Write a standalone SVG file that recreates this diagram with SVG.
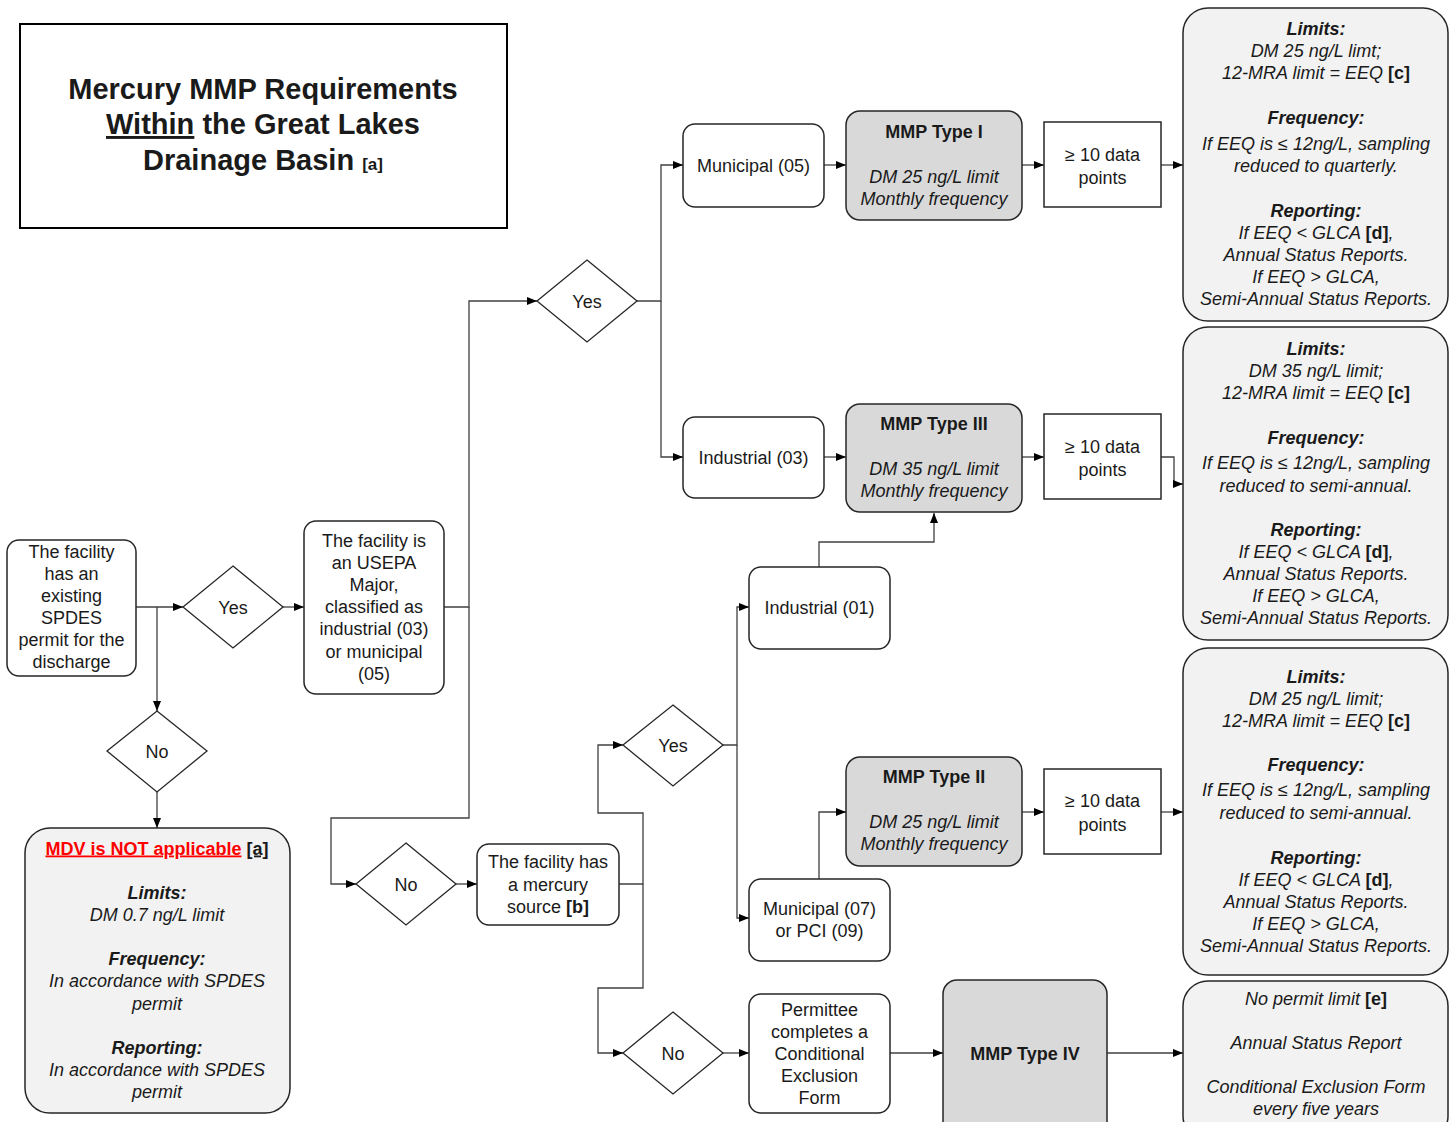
<svg xmlns="http://www.w3.org/2000/svg" width="1455" height="1122" viewBox="0 0 1455 1122">
<style>
text{font-family:"Liberation Sans",Arial,sans-serif;font-size:18px;fill:#1a1a1a;text-anchor:middle}
.box{fill:#fff;stroke:#262626;stroke-width:1.5}
.info{fill:#f2f2f2;stroke:#262626;stroke-width:1.5}
.mmp{fill:#d9d9d9;stroke:#262626;stroke-width:1.5}
.dia{fill:#fff;stroke:#262626;stroke-width:1.3}
.c{fill:none;stroke:#404040;stroke-width:1.3}
.b{font-weight:bold}
.i{font-style:italic}
.bi{font-weight:bold;font-style:italic}
.bn{font-weight:bold;font-style:normal}
</style>
<defs>
<marker id="ar" markerUnits="userSpaceOnUse" markerWidth="10" markerHeight="10" refX="10" refY="5" orient="auto">
<path d="M0,1 L10,5 L0,9 z" fill="#000"/>
</marker>
</defs>
<rect width="1455" height="1122" fill="#fff"/>

<g id="title">
<rect x="20" y="24" width="487" height="204" fill="#fff" stroke="#000" stroke-width="2"/>
<text x="263" y="99" class="b" style="font-size:29px">Mercury MMP Requirements</text>
<text x="263" y="134" class="b" style="font-size:29px"><tspan text-decoration="underline">Within</tspan> the Great Lakes</text>
<text x="263" y="170" class="b" style="font-size:29px">Drainage Basin <tspan style="font-size:17px">[a]</tspan></text>
</g>

<g id="connectors">
<path class="c" d="M136,607 H183" marker-end="url(#ar)"/>
<path class="c" d="M157,607 V711" marker-end="url(#ar)"/>
<path class="c" d="M157,792 V828" marker-end="url(#ar)"/>
<path class="c" d="M283,607 H304" marker-end="url(#ar)"/>
<path class="c" d="M444,607 H469 V301 H537" marker-end="url(#ar)"/>
<path class="c" d="M469,607 V818 H331 V884 H356" marker-end="url(#ar)"/>
<path class="c" d="M637,301 H661 V165 H683" marker-end="url(#ar)"/>
<path class="c" d="M661,301 V457 H683" marker-end="url(#ar)"/>
<path class="c" d="M824,165 H846" marker-end="url(#ar)"/>
<path class="c" d="M1022,165 H1044" marker-end="url(#ar)"/>
<path class="c" d="M1161,165 H1183" marker-end="url(#ar)"/>
<path class="c" d="M824,457 H846" marker-end="url(#ar)"/>
<path class="c" d="M1022,457 H1044" marker-end="url(#ar)"/>
<path class="c" d="M1161,457 H1174 V484 H1183" marker-end="url(#ar)"/>
<path class="c" d="M456,884 H477" marker-end="url(#ar)"/>
<path class="c" d="M619,884 H643 V813 H598 V745 H623" marker-end="url(#ar)"/>
<path class="c" d="M643,884 V988 H598 V1053 H623" marker-end="url(#ar)"/>
<path class="c" d="M723,745 H737 V607 H749" marker-end="url(#ar)"/>
<path class="c" d="M737,745 V918 H749" marker-end="url(#ar)"/>
<path class="c" d="M819,567 V542 H934 V513" marker-end="url(#ar)"/>
<path class="c" d="M819,879 V812 H846" marker-end="url(#ar)"/>
<path class="c" d="M1022,812 H1044" marker-end="url(#ar)"/>
<path class="c" d="M1161,812 H1183" marker-end="url(#ar)"/>
<path class="c" d="M723,1053 H749" marker-end="url(#ar)"/>
<path class="c" d="M890,1053 H943" marker-end="url(#ar)"/>
<path class="c" d="M1107,1053 H1183" marker-end="url(#ar)"/>
</g>

<g id="n-spdes">
<rect class="box" x="7" y="540" width="129" height="136" rx="12"/>
<text x="71.5" y="557.5">The facility</text>
<text x="71.5" y="579.5">has an</text>
<text x="71.5" y="601.5">existing</text>
<text x="71.5" y="623.5">SPDES</text>
<text x="71.5" y="645.5">permit for the</text>
<text x="71.5" y="667.5">discharge</text>
</g>

<g id="d-yes1">
<polygon class="dia" points="233,566 283,607 233,648 183,607"/>
<text x="233" y="613.5">Yes</text>
</g>

<g id="d-no1">
<polygon class="dia" points="157,711 207,751 157,792 107,751"/>
<text x="157" y="757.5">No</text>
</g>

<g id="n-mdv">
<rect class="info" x="25" y="828" width="265" height="285" rx="25"/>
<text x="157" y="854.5"><tspan class="b" style="fill:#ff0000" text-decoration="underline">MDV is NOT applicable</tspan> <tspan class="b" text-decoration="underline">[a]</tspan></text>
<text x="157" y="898.5" class="bi">Limits:</text>
<text x="157" y="920.5" class="i">DM 0.7 ng/L limit</text>
<text x="157" y="964.5" class="bi">Frequency:</text>
<text x="157" y="986.5" class="i">In accordance with SPDES</text>
<text x="157" y="1009.5" class="i">permit</text>
<text x="157" y="1053.5" class="bi">Reporting:</text>
<text x="157" y="1075.5" class="i">In accordance with SPDES</text>
<text x="157" y="1097.5" class="i">permit</text>
</g>

<g id="n-usepa">
<rect class="box" x="304" y="521" width="140" height="173" rx="12"/>
<text x="374" y="546.5">The facility is</text>
<text x="374" y="568.5">an USEPA</text>
<text x="374" y="590.5">Major,</text>
<text x="374" y="612.5">classified as</text>
<text x="374" y="634.5">industrial (03)</text>
<text x="374" y="657.5">or municipal</text>
<text x="374" y="679.5">(05)</text>
</g>

<g id="d-yes2">
<polygon class="dia" points="587,260 637,301 587,342 537,301"/>
<text x="587" y="307.5">Yes</text>
</g>

<g id="d-no2">
<polygon class="dia" points="406,843 456,884 406,925 356,884"/>
<text x="406" y="890.5">No</text>
</g>

<g id="n-source">
<rect class="box" x="477" y="844" width="142" height="81" rx="12"/>
<text x="548" y="867.5">The facility has</text>
<text x="548" y="890.5">a mercury</text>
<text x="548" y="912.5">source <tspan class="b">[b]</tspan></text>
</g>

<g id="n-mun05">
<rect class="box" x="683" y="124" width="141" height="83" rx="12"/>
<text x="753.5" y="171.5">Municipal (05)</text>
</g>

<g id="n-mmp1">
<rect class="mmp" x="846" y="111" width="176" height="109" rx="14"/>
<text x="934" y="138" class="b">MMP Type I</text>
<text x="934" y="182.5" class="i">DM 25 ng/L limit</text>
<text x="934" y="204.5" class="i">Monthly frequency</text>
</g>

<g id="n-data1">
<rect class="box" x="1044" y="122" width="117" height="85"/>
<text x="1102.5" y="160.5">≥ 10 data</text>
<text x="1102.5" y="183.5">points</text>
</g>

<g id="n-info1">
<rect class="info" x="1183" y="8" width="265" height="313" rx="25"/>
<text x="1316" y="34.5" class="bi">Limits:</text>
<text x="1316" y="56.5" class="i">DM 25 ng/L limt;</text>
<text x="1316" y="78.5" class="i">12-MRA limit = EEQ <tspan class="bn">[c]</tspan></text>
<text x="1316" y="123.5" class="bi">Frequency:</text>
<text x="1316" y="149.5" class="i">If EEQ is ≤ 12ng/L, sampling</text>
<text x="1316" y="171.5" class="i">reduced to quarterly.</text>
<text x="1316" y="216.5" class="bi">Reporting:</text>
<text x="1316" y="238.5" class="i">If EEQ &lt; GLCA <tspan class="bn">[d]</tspan>,</text>
<text x="1316" y="260.5" class="i">Annual Status Reports.</text>
<text x="1316" y="282.5" class="i">If EEQ &gt; GLCA,</text>
<text x="1316" y="304.5" class="i">Semi-Annual Status Reports.</text>
</g>

<g id="n-ind03">
<rect class="box" x="683" y="417" width="141" height="81" rx="12"/>
<text x="753.5" y="463.5">Industrial (03)</text>
</g>

<g id="n-mmp3">
<rect class="mmp" x="846" y="404" width="176" height="108" rx="14"/>
<text x="934" y="430" class="b">MMP Type III</text>
<text x="934" y="474.5" class="i">DM 35 ng/L limit</text>
<text x="934" y="496.5" class="i">Monthly frequency</text>
</g>

<g id="n-data2">
<rect class="box" x="1044" y="414" width="117" height="85"/>
<text x="1102.5" y="452.5">≥ 10 data</text>
<text x="1102.5" y="475.5">points</text>
</g>

<g id="n-info2">
<rect class="info" x="1183" y="327" width="265" height="313" rx="25"/>
<text x="1316" y="354.5" class="bi">Limits:</text>
<text x="1316" y="376.5" class="i">DM 35 ng/L limit;</text>
<text x="1316" y="398.5" class="i">12-MRA limit = EEQ <tspan class="bn">[c]</tspan></text>
<text x="1316" y="443.5" class="bi">Frequency:</text>
<text x="1316" y="468.5" class="i">If EEQ is ≤ 12ng/L, sampling</text>
<text x="1316" y="491.5" class="i">reduced to semi-annual.</text>
<text x="1316" y="535.5" class="bi">Reporting:</text>
<text x="1316" y="557.5" class="i">If EEQ &lt; GLCA <tspan class="bn">[d]</tspan>,</text>
<text x="1316" y="579.5" class="i">Annual Status Reports.</text>
<text x="1316" y="601.5" class="i">If EEQ &gt; GLCA,</text>
<text x="1316" y="623.5" class="i">Semi-Annual Status Reports.</text>
</g>

<g id="n-ind01">
<rect class="box" x="749" y="567" width="141" height="82" rx="12"/>
<text x="819.5" y="613.5">Industrial (01)</text>
</g>

<g id="d-yes3">
<polygon class="dia" points="673,705 723,745 673,786 623,745"/>
<text x="673" y="751.5">Yes</text>
</g>

<g id="n-mmp2">
<rect class="mmp" x="846" y="757" width="176" height="109" rx="14"/>
<text x="934" y="783" class="b">MMP Type II</text>
<text x="934" y="827.5" class="i">DM 25 ng/L limit</text>
<text x="934" y="849.5" class="i">Monthly frequency</text>
</g>

<g id="n-data3">
<rect class="box" x="1044" y="769" width="117" height="85"/>
<text x="1102.5" y="806.5">≥ 10 data</text>
<text x="1102.5" y="830.5">points</text>
</g>

<g id="n-info3">
<rect class="info" x="1183" y="648" width="265" height="327" rx="25"/>
<text x="1316" y="682.5" class="bi">Limits:</text>
<text x="1316" y="704.5" class="i">DM 25 ng/L limit;</text>
<text x="1316" y="726.5" class="i">12-MRA limit = EEQ <tspan class="bn">[c]</tspan></text>
<text x="1316" y="770.5" class="bi">Frequency:</text>
<text x="1316" y="795.5" class="i">If EEQ is ≤ 12ng/L, sampling</text>
<text x="1316" y="818.5" class="i">reduced to semi-annual.</text>
<text x="1316" y="863.5" class="bi">Reporting:</text>
<text x="1316" y="885.5" class="i">If EEQ &lt; GLCA <tspan class="bn">[d]</tspan>,</text>
<text x="1316" y="907.5" class="i">Annual Status Reports.</text>
<text x="1316" y="929.5" class="i">If EEQ &gt; GLCA,</text>
<text x="1316" y="951.5" class="i">Semi-Annual Status Reports.</text>
</g>

<g id="n-mun07">
<rect class="box" x="749" y="879" width="141" height="82" rx="12"/>
<text x="819.5" y="914.5">Municipal (07)</text>
<text x="819.5" y="936.5">or PCI (09)</text>
</g>

<g id="d-no3">
<polygon class="dia" points="673,1012 723,1053 673,1094 623,1053"/>
<text x="673" y="1059.5">No</text>
</g>

<g id="n-permittee">
<rect class="box" x="749" y="994" width="141" height="119" rx="12"/>
<text x="819.5" y="1015.5">Permittee</text>
<text x="819.5" y="1037.5">completes a</text>
<text x="819.5" y="1059.5">Conditional</text>
<text x="819.5" y="1081.5">Exclusion</text>
<text x="819.5" y="1103.5">Form</text>
</g>

<g id="n-mmp4">
<rect class="mmp" x="943" y="980" width="164" height="160" rx="14"/>
<text x="1025" y="1059.5" class="b">MMP Type IV</text>
</g>

<g id="n-info4">
<rect class="info" x="1183" y="981" width="265" height="160" rx="25"/>
<text x="1316" y="1004.5" class="i">No permit limit <tspan class="bn">[e]</tspan></text>
<text x="1316" y="1048.5" class="i">Annual Status Report</text>
<text x="1316" y="1092.5" class="i">Conditional Exclusion Form</text>
<text x="1316" y="1114.5" class="i">every five years</text>
</g>
</svg>
